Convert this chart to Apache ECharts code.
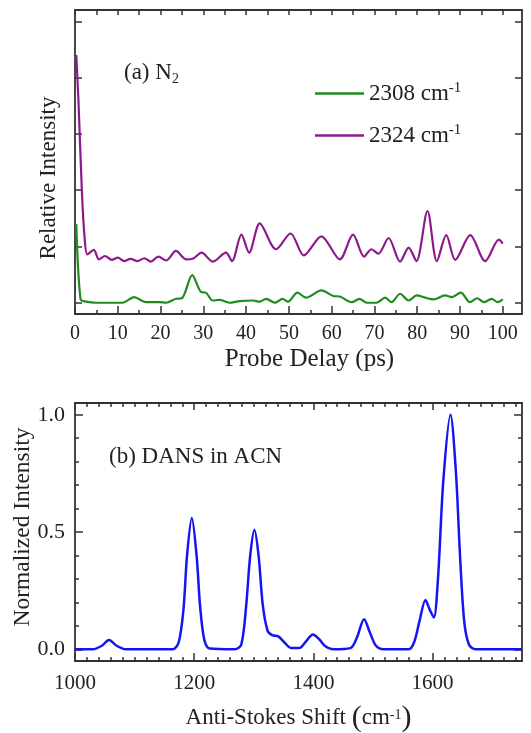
<!DOCTYPE html>
<html>
<head>
<meta charset="utf-8">
<script src="https://cdn.jsdelivr.net/npm/echarts@6/dist/echarts.min.js"></script>
<style>
html, body { margin: 0; padding: 0; background: #fff; }
#main { width: 531px; height: 733px; }
</style>
</head>
<body>
<div id="main"></div>
<script>
var FONT = '"Liberation Serif", "DejaVu Serif", serif';
var INK = '#222';
var AXIS = '#333';

// (a) N2 : probe delay (ps) vs relative intensity
var delay2308 = [0.3, 1.3, 2.5, 5, 8, 11.1, 13.8, 16.6, 19.7, 21.3, 23.6, 25, 27.4, 29.5, 30.6, 32.2, 33.8, 36.1, 38.5, 41.6, 43.2, 44.7, 46.7, 48.5, 49.8, 52, 54, 57.6, 60.4, 61.9, 64.7, 66.5, 68.2, 70.5, 72.5, 74, 76, 78, 79.9, 81.9, 83.8, 86.5, 88.1, 90.2, 92.3, 94, 95.6, 97.4, 98.8, 100];
var int2308 = [1.40, 0.06, 0.02, 0.0, 0.0, 0.0, 0.10, 0.01, 0.01, 0.0, 0.07, 0.08, 0.49, 0.19, 0.18, 0.04, 0.05, 0.0, 0.03, 0.04, 0.02, 0.07, 0.0, 0.07, 0.02, 0.18, 0.09, 0.22, 0.12, 0.11, 0.01, 0.07, 0.0, 0.0, 0.09, 0.01, 0.16, 0.04, 0.13, 0.09, 0.06, 0.13, 0.10, 0.18, 0.01, 0.08, 0.01, 0.07, 0.01, 0.06];

var delay2324 = [0.3, 0.8, 1.6, 2.2, 2.9, 4.4, 5.6, 7, 8.6, 10, 11.5, 13, 14.6, 16.2, 17.7, 19.5, 21.3, 23.6, 26, 27.5, 29.6, 32.2, 35.3, 36.7, 38.9, 40.7, 43.2, 47, 50.4, 53.5, 57.6, 61.9, 65, 67.6, 69.3, 70.9, 73.3, 76, 78, 79.8, 82.4, 84.6, 86.8, 88.9, 92.4, 95.9, 99.1, 100];
var int2324 = [4.40, 3.60, 2.00, 1.20, 0.86, 0.94, 0.77, 0.83, 0.76, 0.80, 0.74, 0.78, 0.74, 0.79, 0.73, 0.82, 0.75, 0.92, 0.77, 0.78, 0.89, 0.73, 0.89, 0.74, 1.21, 0.89, 1.41, 0.95, 1.23, 0.84, 1.18, 0.77, 1.21, 0.82, 0.95, 0.87, 1.15, 0.73, 0.98, 0.74, 1.63, 0.74, 1.20, 0.76, 1.20, 0.74, 1.12, 1.05];

// (b) DANS in ACN : anti-Stokes shift (cm-1) vs normalized intensity
var shift = [1000, 1030, 1045, 1057, 1070, 1085, 1164, 1174, 1182, 1188, 1196, 1204, 1210, 1217, 1226, 1268, 1279, 1287, 1294, 1301, 1308, 1315, 1323, 1331, 1341, 1351, 1363, 1376, 1388, 1399, 1409, 1419, 1434, 1462, 1473, 1485, 1495, 1505, 1518, 1560, 1569, 1578, 1588, 1595, 1602, 1609, 1618, 1630, 1639, 1646, 1653, 1661, 1672, 1750];
var normInt = [0.0, 0.0, 0.015, 0.04, 0.015, 0.0, 0.0, 0.03, 0.17, 0.40, 0.56, 0.40, 0.18, 0.04, 0.003, 0.0, 0.02, 0.18, 0.40, 0.51, 0.40, 0.19, 0.08, 0.06, 0.055, 0.03, 0.005, 0.005, 0.035, 0.063, 0.045, 0.015, 0.0, 0.005, 0.05, 0.128, 0.07, 0.015, 0.0, 0.0, 0.03, 0.12, 0.21, 0.17, 0.135, 0.30, 0.72, 1.0, 0.76, 0.40, 0.12, 0.02, 0.0, 0.0];

// ticks
var delayMajor = [0, 10, 20, 30, 40, 50, 60, 70, 80, 90, 100];
var delayMinor = [5, 15, 25, 35, 45, 55, 65, 75, 85, 95];
var delayTop = [0, 5, 10, 15, 20, 25, 30, 35, 40, 45, 50, 55, 60, 65, 70, 75, 80, 85, 90, 95, 100];
var relTicks = [0, 1, 2, 3, 4, 5];
var shiftMajor = [1000, 1200, 1400, 1600];
var shiftMinor = [1020, 1040, 1060, 1080, 1100, 1120, 1140, 1160, 1180, 1220, 1240, 1260, 1280, 1300, 1320, 1340, 1360, 1380, 1420, 1440, 1460, 1480, 1500, 1520, 1540, 1560, 1580, 1620, 1640, 1660, 1680, 1700, 1720, 1740];
var normMajor = [0, 0.5, 1.0];
var normMinor = [0.1, 0.2, 0.3, 0.4, 0.6, 0.7, 0.8, 0.9];

function pairs(xs, ys) {
    return xs.map(function (x, i) { return [x, ys[i]]; });
}

function tickAxis(o) {
    // one set of inward ticks along one edge of a grid
    return {
        type: 'value',
        gridIndex: o.grid,
        position: o.pos,
        min: o.min,
        max: o.max,
        splitLine: { show: false },
        axisLine: { show: o.line !== false, onZero: false, lineStyle: { color: AXIS, width: 1.8 } },
        axisTick: { show: true, inside: true, length: o.len, customValues: o.ticks, lineStyle: { color: AXIS, width: 1.5 } },
        axisLabel: o.labels ? {
            show: true, customValues: o.labels, margin: o.margin, fontSize: o.fontSize,
            fontFamily: FONT, color: INK, formatter: o.fmt || function (v) { return String(v); }
        } : { show: false },
        name: o.name || '',
        nameLocation: 'middle',
        nameGap: o.nameGap || 0,
        nameMoveOverlap: false,
        nameTextStyle: o.nameStyle || {}
    };
}

var myChart = echarts.init(document.getElementById('main'), null, { renderer: 'canvas' });

var option = {
    backgroundColor: '#fff',
    animation: false,
    grid: [
        { left: 75, top: 10, width: 447, height: 304, outerBoundsMode: 'none', containLabel: false },
        { left: 75, top: 403, width: 447, height: 258, outerBoundsMode: 'none', containLabel: false }
    ],
    legend: {
        data: ['2308 cm-1', '2324 cm-1'],
        orient: 'vertical',
        left: 315,
        top: 81,
        padding: 0,
        icon: 'rect',
        itemWidth: 49,
        itemHeight: 2.5,
        itemGap: 18,
        formatter: function (name) {
            return '{t|' + name.replace(' cm-1', ' cm') + '}{s|-1}';
        },
        textStyle: {
            fontFamily: FONT, color: INK, fontSize: 23,
            rich: {
                t: { fontFamily: FONT, color: INK, fontSize: 23, lineHeight: 25 },
                s: { fontFamily: FONT, color: INK, fontSize: 15, verticalAlign: 'top', lineHeight: 15 }
            }
        }
    },
    xAxis: [
        tickAxis({ grid: 0, pos: 'bottom', min: 0, max: 104.5, len: 8, ticks: delayMajor, labels: delayMajor,
            margin: 10, fontSize: 20, name: 'Probe Delay (ps)', nameGap: 33,
            nameStyle: { fontFamily: FONT, color: INK, fontSize: 25, padding: [0, 0, 0, 22] } }),
        tickAxis({ grid: 0, pos: 'bottom', min: 0, max: 104.5, len: 4, ticks: delayMinor, line: false }),
        tickAxis({ grid: 0, pos: 'top', min: 0, max: 104.5, len: 5, ticks: delayTop }),
        tickAxis({ grid: 1, pos: 'bottom', min: 1000, max: 1750, len: 8, ticks: shiftMajor, labels: shiftMajor,
            margin: 12, fontSize: 21, name: '{t|Anti-Stokes Shift }{p|(}{t|cm}{s|-1}{p|)}', nameGap: 42,
            nameStyle: { fontFamily: FONT, color: INK, fontSize: 23,
                rich: {
                    t: { fontFamily: FONT, color: INK, fontSize: 23 },
                    p: { fontFamily: FONT, color: INK, fontSize: 30 },
                    s: { fontFamily: FONT, color: INK, fontSize: 14, verticalAlign: 'top', padding: [5, 0, 0, 0] }
                } } }),
        tickAxis({ grid: 1, pos: 'bottom', min: 1000, max: 1750, len: 4, ticks: shiftMinor, line: false }),
        tickAxis({ grid: 1, pos: 'top', min: 1000, max: 1750, len: 7, ticks: shiftMajor }),
        tickAxis({ grid: 1, pos: 'top', min: 1000, max: 1750, len: 4, ticks: shiftMinor, line: false })
    ],
    yAxis: [
        tickAxis({ grid: 0, pos: 'left', min: -0.2, max: 5.2, len: 7, ticks: relTicks,
            name: 'Relative Intensity', nameGap: 15,
            nameStyle: { fontFamily: FONT, color: INK, fontSize: 23, padding: [0, 32, 0, 0] } }),
        tickAxis({ grid: 0, pos: 'right', min: -0.2, max: 5.2, len: 7, ticks: relTicks }),
        tickAxis({ grid: 1, pos: 'left', min: -0.05, max: 1.05, len: 8, ticks: normMajor, labels: normMajor,
            margin: 10, fontSize: 22, fmt: function (v) { return v.toFixed(1); },
            name: 'Normalized Intensity', nameGap: 40,
            nameStyle: { fontFamily: FONT, color: INK, fontSize: 23.5, padding: [0, 0, 0, 10] } }),
        tickAxis({ grid: 1, pos: 'left', min: -0.05, max: 1.05, len: 4, ticks: normMinor, line: false }),
        tickAxis({ grid: 1, pos: 'right', min: -0.05, max: 1.05, len: 8, ticks: normMajor }),
        tickAxis({ grid: 1, pos: 'right', min: -0.05, max: 1.05, len: 4, ticks: normMinor, line: false })
    ],
    graphic: [
        {
            type: 'text', left: 124, top: 60,
            style: {
                text: '{t|(a) N}{b|2}',
                rich: {
                    t: { fontFamily: FONT, fill: INK, fontSize: 23, lineHeight: 24, verticalAlign: 'top' },
                    b: { fontFamily: FONT, fill: INK, fontSize: 14, lineHeight: 14, padding: [12, 0, 0, 0] }
                }
            }
        },
        {
            type: 'text', left: 109, top: 445,
            style: { text: '(b) DANS in ACN', fontFamily: FONT, fill: INK, fontSize: 23 }
        }
    ],
    series: [
        {
            name: '2308 cm-1', type: 'line', xAxisIndex: 0, yAxisIndex: 0,
            data: pairs(delay2308, int2308), smooth: 0.3, symbol: 'none',
            color: '#1f8c1f', lineStyle: { color: '#1f8c1f', width: 2.2 }
        },
        {
            name: '2324 cm-1', type: 'line', xAxisIndex: 0, yAxisIndex: 0,
            data: pairs(delay2324, int2324), smooth: 0.3, symbol: 'none',
            color: '#8c1a8c', lineStyle: { color: '#8c1a8c', width: 2.2 }
        },
        {
            name: 'DANS', type: 'line', xAxisIndex: 3, yAxisIndex: 2,
            data: pairs(shift, normInt), smooth: 0.3, symbol: 'none',
            color: '#1414f5', lineStyle: { color: '#1414f5', width: 2.5 }
        }
    ]
};

myChart.setOption(option);
</script>
</body>
</html>
